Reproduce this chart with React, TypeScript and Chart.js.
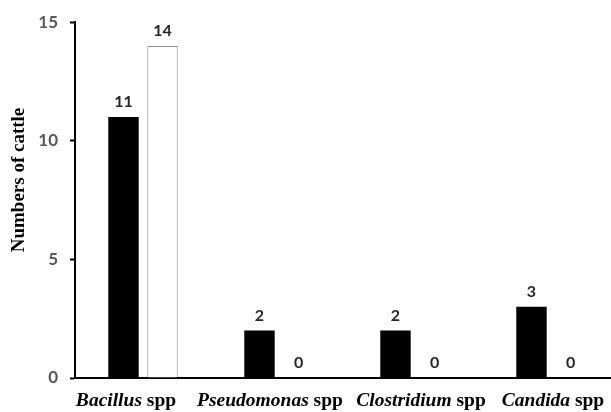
import React, { useEffect, useRef } from "react";
import { Chart, registerables } from "chart.js";

Chart.register(...registerables);

const genus = ["Bacillus", "Pseudomonas", "Clostridium", "Candida"];
const suffix = " spp";
const blackValues = [11, 2, 2, 3];
const whiteValues = [14, 0, 0, 0];
const yMin = 0;
const yMax = 15;
const yStep = 5;
const yTitle = "Numbers of cattle";

// small horizontal nudges of the category captions (layout only)
const captionNudge = [-17, -9, 6, 2];

const serif = '"Liberation Serif", "Times New Roman", serif';
const sans = 'Lato, "Liberation Sans", sans-serif';

const valueLabels = {
  id: "valueLabels",
  afterDatasetsDraw(chart: any) {
    const ctx = chart.ctx;
    ctx.save();
    ctx.font = `bold 16px ${sans}`;
    ctx.fillStyle = "#262626";
    ctx.textAlign = "center";
    ctx.textBaseline = "middle";
    chart.data.datasets.forEach((ds: any, di: number) => {
      const meta = chart.getDatasetMeta(di);
      meta.data.forEach((el: any, i: number) => {
        ctx.fillText(String(ds.data[i]), el.x, el.y - 15);
      });
    });
    ctx.restore();
  },
};

const customText = {
  id: "customText",
  afterDraw(chart: any) {
    const ctx = chart.ctx;
    const xs = chart.scales.x;
    ctx.save();
    ctx.fillStyle = "#000";
    ctx.textBaseline = "middle";
    ctx.textAlign = "left";
    const fItal = `italic bold 19.5px ${serif}`;
    const fBold = `bold 19.5px ${serif}`;
    genus.forEach((g, i) => {
      ctx.font = fItal;
      const w1 = ctx.measureText(g).width;
      ctx.font = fBold;
      const w2 = ctx.measureText(suffix).width;
      const cx = xs.getPixelForValue(i) + captionNudge[i];
      const x0 = cx - (w1 + w2) / 2;
      const y = 401;
      ctx.font = fItal;
      ctx.fillText(g, x0, y);
      ctx.font = fBold;
      ctx.fillText(suffix, x0 + w1, y);
    });
    ctx.translate(19, 180);
    ctx.rotate(-Math.PI / 2);
    ctx.textAlign = "center";
    ctx.font = `bold 19px ${serif}`;
    ctx.fillText(yTitle, 0, 0);
    ctx.restore();
  },
};

export default function App() {
  const ref = useRef<HTMLCanvasElement | null>(null);
  useEffect(() => {
    if (!ref.current) return;
    const chart = new Chart(ref.current, {
      type: "bar",
      data: {
        labels: genus.map((g) => g + suffix),
        datasets: [
          {
            data: blackValues,
            backgroundColor: "#000000",
            borderWidth: 0,
            categoryPercentage: 0.574,
            barPercentage: 0.78,
          },
          {
            data: whiteValues,
            backgroundColor: "#ffffff",
            borderColor: "#8c8c8c",
            borderWidth: 1,
            categoryPercentage: 0.574,
            barPercentage: 0.78,
          },
        ],
      },
      options: {
        responsive: false,
        animation: false,
        layout: { padding: { top: 21, right: 11, bottom: 34, left: 0 } },
        plugins: {
          legend: { display: false },
          tooltip: { enabled: false },
        },
        scales: {
          x: {
            grid: { display: false, drawTicks: false, tickLength: 0 },
            border: { display: true, color: "#000", width: 2 },
            ticks: { display: false },
          },
          y: {
            min: yMin,
            max: yMax,
            afterFit(scale: any) {
              scale.width = 75;
            },
            ticks: {
              stepSize: yStep,
              padding: 12,
              color: "#595959",
              font: { family: sans, size: 17, weight: "bold" },
            },
            grid: {
              display: true,
              drawOnChartArea: false,
              drawTicks: true,
              tickLength: 5,
              tickWidth: 2,
              color: "#000",
            },
            border: { display: true, color: "#000", width: 2 },
          },
        },
      },
      plugins: [valueLabels, customText],
    });
    return () => chart.destroy();
  }, []);
  return (
    <div
      style={{
        position: "fixed",
        left: 0,
        top: 0,
        width: 611,
        height: 412,
        overflow: "hidden",
        background: "#fff",
      }}
    >
      <canvas ref={ref} width={630} height={412} style={{ width: 630, height: 412, display: "block" }} />
    </div>
  );
}
